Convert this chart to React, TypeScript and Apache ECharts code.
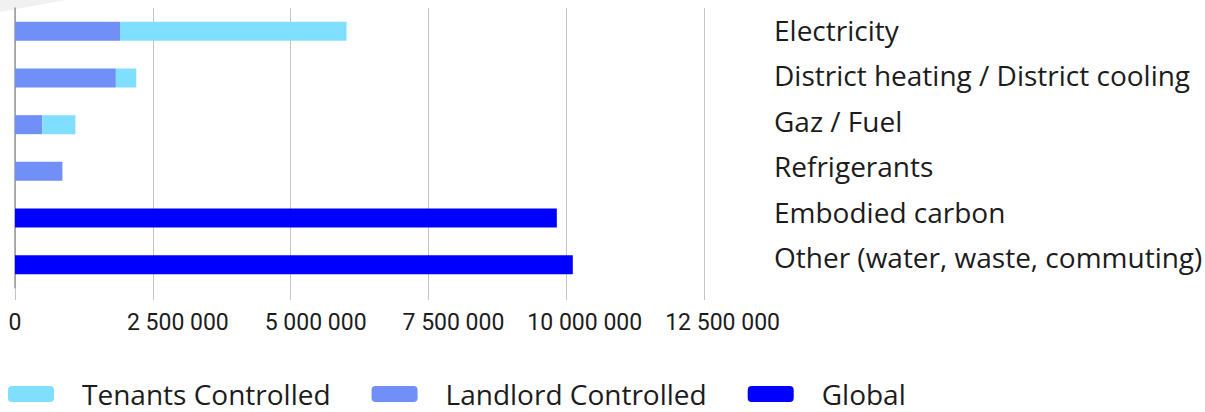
import React, { useEffect, useRef } from "react";
import * as echarts from "echarts";

const categories = [
  "Electricity",
  "District heating / District cooling",
  "Gaz / Fuel",
  "Refrigerants",
  "Embodied carbon",
  "Other (water, waste, commuting)",
];
const landlordControlled = [1905000, 1830000, 496000, 860000, 0, 0];
const tenantsControlled = [4110000, 370000, 600000, 0, 0, 0];
const globalValues = [0, 0, 0, 0, 9830000, 10120000];
const xTicks = [0, 2500000, 5000000, 7500000, 10000000, 12500000];

const FONT = "Roboto";
const WIDE_FONT = "'Open Sans'";
const TEXT = "#1c1c1c";

function fmt(v: number): string {
  return String(Math.round(v)).replace(/\B(?=(\d{3})+(?!\d))/g, " ");
}

export default function App() {
  const ref = useRef<HTMLDivElement>(null);
  useEffect(() => {
    document.body.style.margin = "0";
    if (!ref.current) return;
    const chart = echarts.init(ref.current, null, { renderer: "svg" });
    chart.setOption({
      animation: false,
      backgroundColor: "#ffffff",
      textStyle: { fontFamily: FONT },
      graphic: [
        {
          type: "polygon",
          shape: { points: [[0, 0], [66, 0], [0, 12]] },
          style: { fill: "#f1f1f1" },
          z: -1,
        },
      ],
      grid: [
        {
          left: 15,
          top: 8,
          width: 689,
          height: 280,
          containLabel: false,
          outerBoundsMode: "none",
        },
        {
          left: 15,
          top: 7,
          width: 689,
          height: 273,
          containLabel: false,
          outerBoundsMode: "none",
        },
      ],
      legend: {
        left: 8,
        top: 380,
        padding: 0,
        icon: "roundRect",
        itemWidth: 46,
        itemHeight: 16,
        itemGap: 41,
        data: ["Tenants Controlled", "Landlord Controlled", "Global"],
        textStyle: {
          fontSize: 28,
          color: TEXT,
          fontFamily: WIDE_FONT,
          padding: [0, 0, 0, 23],
        },
      },
      xAxis: [
        {
          type: "value",
          gridIndex: 0,
          min: xTicks[0],
          max: xTicks[xTicks.length - 1],
          interval: xTicks[1] - xTicks[0],
          axisLine: { show: false },
          axisTick: {
            show: true,
            length: 12,
            lineStyle: { color: "#c4c4c4", width: 1 },
          },
          splitLine: { show: true, lineStyle: { color: "#c4c4c4", width: 1 } },
          axisLabel: {
            margin: 23,
            formatter: (v: number) => (v === 0 ? "{z|0}" : "{v|" + fmt(v) + "}"),
            rich: {
              v: { width: 152, align: "right", fontSize: 23, color: TEXT, fontFamily: FONT },
              z: { fontSize: 23, color: TEXT, fontFamily: FONT },
            },
          },
        },
        {
          type: "value",
          gridIndex: 1,
          show: false,
          min: xTicks[0],
          max: xTicks[xTicks.length - 1],
        },
      ],
      yAxis: [
        {
          type: "category",
          gridIndex: 0,
          data: categories,
          inverse: true,
          position: "left",
          axisLine: { show: true, lineStyle: { color: "#9a9a9a", width: 1.5 } },
          axisTick: { show: false },
          axisLabel: { show: false },
          splitLine: { show: false },
        },
        {
          type: "category",
          gridIndex: 1,
          data: categories,
          inverse: true,
          position: "right",
          axisLine: { show: false },
          axisTick: { show: false },
          splitLine: { show: false },
          axisLabel: {
            margin: 70,
            align: "left",
            fontSize: 28,
            color: TEXT,
            fontFamily: WIDE_FONT,
          },
        },
      ],
      series: [
        {
          name: "Landlord Controlled",
          type: "bar",
          stack: "total",
          xAxisIndex: 0,
          yAxisIndex: 0,
          barWidth: 19,
          itemStyle: { color: "#7090f8" },
          data: landlordControlled,
        },
        {
          name: "Tenants Controlled",
          type: "bar",
          stack: "total",
          xAxisIndex: 0,
          yAxisIndex: 0,
          barWidth: 19,
          itemStyle: { color: "#80dfff" },
          data: tenantsControlled,
        },
        {
          name: "Global",
          type: "bar",
          stack: "total",
          xAxisIndex: 0,
          yAxisIndex: 0,
          barWidth: 19,
          itemStyle: { color: "#0000ff" },
          data: globalValues,
        },
      ],
    });
    return () => chart.dispose();
  }, []);
  return <div ref={ref} style={{ width: 1205, height: 412 }} />;
}
